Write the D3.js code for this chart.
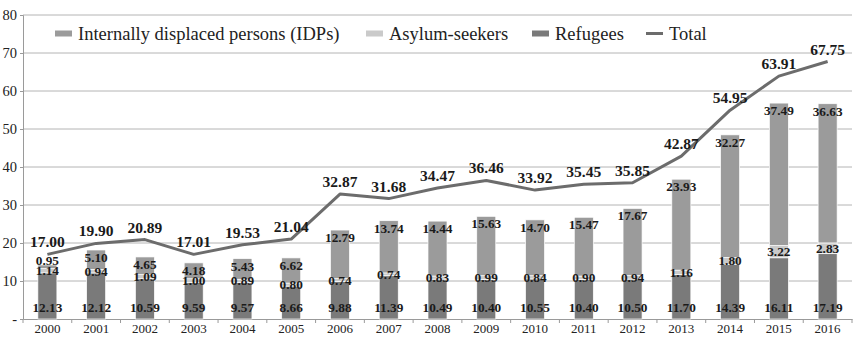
<!doctype html>
<html>
  <head>
    <meta charset="utf-8" />
    <title>Displaced persons 2000-2016</title>
    <style>
      body { margin: 0; background: #fff; }
      svg text { font-family: "Liberation Serif", "Times New Roman", "DejaVu Serif", serif; }
      .grid line { stroke: #b4b4b4; stroke-width: 1px; }
      .xaxis text { font-size: 13px; fill: #222; }
      .yaxis text { font-size: 14.5px; fill: #222; }
      .lbl { font-size: 13.3px; font-weight: bold; fill: #1a1a1a; text-anchor: middle; }
      .tot { font-size: 15.5px; font-weight: bold; fill: #1a1a1a; text-anchor: middle; }
      .legend text { font-size: 18.5px; fill: #222; }
    </style>
  </head>
  <body>
    <div id="chart"></div>
    <script src="https://cdn.jsdelivr.net/npm/d3@7"></script>
    <script>
      var years = ["2000","2001","2002","2003","2004","2005","2006","2007","2008",
                   "2009","2010","2011","2012","2013","2014","2015","2016"];
      var refugees = [12.13,12.12,10.59,9.59,9.57,8.66,9.88,11.39,10.49,10.40,10.55,10.40,10.50,11.70,14.39,16.11,17.19];
      var asylum = [1.14,0.94,1.09,1.00,0.89,0.80,0.74,0.74,0.83,0.99,0.84,0.90,0.94,1.16,1.80,3.22,2.83];
      var idps = [0.95,5.10,4.65,4.18,5.43,6.62,12.79,13.74,14.44,15.63,14.70,15.47,17.67,23.93,32.27,37.49,36.63];
      var total = [17.00,19.90,20.89,17.01,19.53,21.04,32.87,31.68,34.47,36.46,33.92,35.45,35.85,42.87,54.95,63.91,67.75];
      var yTicks = [0,10,20,30,40,50,60,70,80];

      var colors = {idps: "#9b9b9b", asylum: "#cacaca", refugees: "#7a7a7a", total: "#6c6c6c"};
      var serif = '"Liberation Serif", "Times New Roman", "DejaVu Serif", serif';

      var width = 856, height = 338;
      var margin = {top: 15, right: 4, bottom: 19, left: 23};

      var svg = d3.select("#chart").append("svg")
                  .attr("width", width)
                  .attr("height", height)
                  .attr("font-family", serif);

      var x = d3.scaleBand()
                .domain(years)
                .range([margin.left, width - margin.right])
                .paddingInner(0.61)
                .paddingOuter(0.305);

      var y = d3.scaleLinear()
                .domain([0, 80])
                .range([height - margin.bottom, margin.top]);

      // gridlines
      svg.append("g").attr("class", "grid")
         .selectAll("line")
         .data(yTicks.slice(1))
         .enter().append("line")
         .attr("x1", margin.left).attr("x2", width - margin.right)
         .attr("y1", function(d) { return y(d); })
         .attr("y2", function(d) { return y(d); });

      // y axis
      var yAxis = svg.append("g").attr("class", "yaxis")
         .attr("transform", "translate(" + margin.left + ",0)")
         .call(d3.axisLeft(y).tickValues(yTicks).tickSize(3).tickPadding(3)
                 .tickFormat(function(d) { return d === 0 ? "-" : d; }));
      yAxis.attr("font-family", serif);
      yAxis.select(".domain").attr("stroke", "#9a9a9a");
      yAxis.selectAll(".tick line").attr("stroke", "#9a9a9a");
      yAxis.selectAll("text").attr("fill", "#222");

      // x axis: ticks at category boundaries
      var xAxis = svg.append("g").attr("class", "xaxis")
         .attr("transform", "translate(0," + y(0) + ")")
         .call(d3.axisBottom(x).tickSize(0).tickPadding(5));
      xAxis.attr("font-family", serif);
      xAxis.select(".domain").attr("stroke", "#9a9a9a");
      xAxis.selectAll("text").attr("fill", "#222");
      var step = x.step();
      xAxis.selectAll(".sep")
         .data(d3.range(years.length + 1))
         .enter().append("line")
         .attr("x1", function(i) { return margin.left + i * step; })
         .attr("x2", function(i) { return margin.left + i * step; })
         .attr("y1", 0).attr("y2", 4)
         .attr("stroke", "#9a9a9a");

      // stacked bars
      var rows = years.map(function(yr, i) {
        return {year: yr, refugees: refugees[i], asylum: asylum[i], idps: idps[i]};
      });
      var keys = ["refugees", "asylum", "idps"];
      var series = d3.stack().keys(keys)(rows);

      svg.append("g").selectAll("g")
         .data(series)
         .enter().append("g")
         .attr("fill", function(s) { return colors[s.key]; })
         .selectAll("rect")
         .data(function(s) { return s; })
         .enter().append("rect")
         .attr("x", function(d) { return x(d.data.year); })
         .attr("width", x.bandwidth())
         .attr("y", function(d) { return y(d[1]); })
         .attr("height", function(d) { return y(d[0]) - y(d[1]); })
         .attr("stroke", "#fff")
         .attr("stroke-width", 0.7);

      // bar labels
      var lab = svg.append("g");
      series.forEach(function(s) {
        lab.selectAll(null)
           .data(s)
           .enter().append("text")
           .attr("class", "lbl")
           .attr("x", function(d) { return x(d.data.year) + x.bandwidth() / 2; })
           .attr("y", function(d) {
             if (s.key === "refugees") return y(0) - 7;
             if (s.key === "asylum") return (y(d[0]) + y(d[1])) / 2 + 4.5;
             // IDPs: inside end, or just above when the segment is too thin
             if (y(d[0]) - y(d[1]) < 12) return y(d[1]);
             return y(d[1]) + 12;
           })
           .text(function(d) { return d.data[s.key].toFixed(2); });
      });

      // total line
      var line = d3.line()
                   .x(function(d, i) { return x(years[i]) + x.bandwidth() / 2; })
                   .y(function(d) { return y(d); });

      svg.append("path")
         .datum(total)
         .attr("fill", "none")
         .attr("stroke", colors.total)
         .attr("stroke-width", 3)
         .attr("stroke-linejoin", "round")
         .attr("d", line);

      svg.append("g").selectAll("text")
         .data(total)
         .enter().append("text")
         .attr("class", "tot")
         .attr("x", function(d, i) { return x(years[i]) + x.bandwidth() / 2; })
         .attr("y", function(d) { return y(d) - 7; })
         .text(function(d) { return d.toFixed(2); });

      // legend
      var legendItems = [
        {name: "Internally displaced persons (IDPs)", key: "idps", x: 55},
        {name: "Asylum-seekers", key: "asylum", x: 366},
        {name: "Refugees", key: "refugees", x: 532},
        {name: "Total", key: "total", x: 646}
      ];
      var legend = svg.append("g").attr("class", "legend");
      var item = legend.selectAll("g")
                       .data(legendItems)
                       .enter().append("g")
                       .attr("transform", function(d) { return "translate(" + d.x + ",33.5)"; });
      item.append("rect")
          .attr("y", function(d) { return d.key === "total" ? -1.5 : -3; })
          .attr("width", 17)
          .attr("height", function(d) { return d.key === "total" ? 3 : 6; })
          .attr("fill", function(d) { return colors[d.key]; });
      item.append("text")
          .attr("x", 23)
          .attr("y", 6)
          .text(function(d) { return d.name; });
    </script>
  </body>
</html>
